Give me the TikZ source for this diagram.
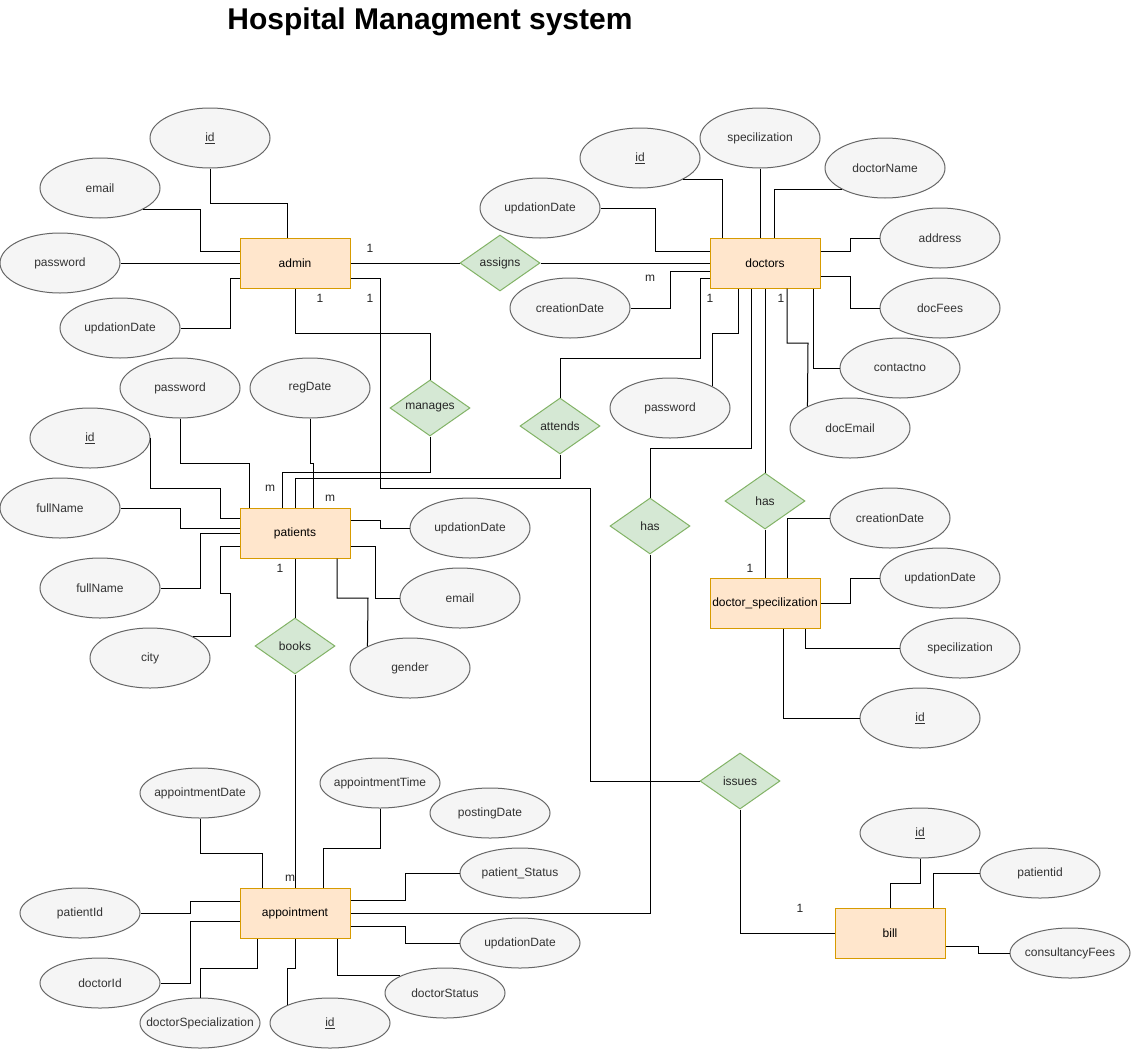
\documentclass[tikz,border=0pt]{standalone}
\usepackage{fontspec}
\setmainfont{Liberation Sans}
\usetikzlibrary{shapes.geometric}
\definecolor{entfill}{HTML}{FFE6CC}
\definecolor{entdraw}{HTML}{D79B00}
\definecolor{relfill}{HTML}{D5E8D4}
\definecolor{reldraw}{HTML}{82B366}
\definecolor{attfill}{HTML}{F5F5F5}
\definecolor{attdraw}{HTML}{666666}
\definecolor{atttext}{HTML}{333333}
\newcommand\erfont{\fontsize{12}{14}\selectfont}
\newcommand\zw[1]{\makebox[0pt][c]{#1}}
\begin{document}
\begin{tikzpicture}[x=1pt,y=-1pt,line width=1pt,
  ent/.style={draw=entdraw,fill=entfill,minimum width=110,minimum height=50,inner sep=0,font=\erfont,text=black},
  rel/.style={diamond,shape aspect=1.43,draw=reldraw,fill=relfill,minimum width=80,minimum height=56,inner sep=0,font=\erfont,text=black!85},
  attr/.style={ellipse,draw=attdraw,fill=attfill,minimum width=120,minimum height=60,inner sep=0,font=\erfont,text=atttext},
  attrs/.style={attr,minimum height=50},
  lbl/.style={font=\erfont,text=black!85,inner sep=0}]
\useasboundingbox[fill=white] (0,0) rectangle (1131,1049);

\node[font=\fontsize{30}{36}\selectfont\bfseries,anchor=base,inner sep=0] (title) at (430,30) {Hospital Managment system};

% entities
\node[ent] (admin) at (295,263) {admin};
\node[ent] (doctors) at (765,263) {doctors};
\node[ent] (patients) at (295,533) {patients};
\node[ent] (docspec) at (765,603) {doctor\_specilization};
\node[ent] (appt) at (295,913) {appointment};
\node[ent] (bill) at (890,933) {bill};

% relationships
\node[rel] (assigns) at (500,263) {assigns};
\node[rel] (manages) at (430,408) {manages};
\node[rel] (attends) at (560,426) {attends};
\node[rel] (hasL) at (650,526) {has};
\node[rel] (hasR) at (765,501) {has};
\node[rel] (books) at (295,646) {books};
\node[rel] (issues) at (740,781) {issues};

% admin attributes
\node[attr] (aId) at (210,138) {\zw{\underline{id}}};
\node[attr] (aEmail) at (100,188) {\zw{email}};
\node[attr] (aPass) at (60,263) {\zw{password}};
\node[attr] (aUpd) at (120,328) {\zw{updationDate}};

% doctors attributes
\node[attr] (dId) at (640,158) {\zw{\underline{id}}};
\node[attr] (dSpec) at (760,138) {\zw{specilization}};
\node[attr] (dName) at (885,168) {\zw{doctorName}};
\node[attr] (dUpd) at (540,208) {\zw{updationDate}};
\node[attr] (dCre) at (570,308) {\zw{creationDate}};
\node[attr] (dAddr) at (940,238) {\zw{address}};
\node[attr] (dFees) at (940,308) {\zw{docFees}};
\node[attr] (dContact) at (900,368) {\zw{contactno}};
\node[attr] (dEmail) at (850,428) {\zw{docEmail}};
\node[attr] (dPass) at (670,408) {\zw{password}};

% patients attributes
\node[attr] (pPass) at (180,388) {\zw{password}};
\node[attr] (pReg) at (310,388) {\zw{regDate}};
\node[attr] (pId) at (90,438) {\zw{\underline{id}}};
\node[attr] (pName1) at (60,508) {\zw{fullName}};
\node[attr] (pName2) at (100,588) {\zw{fullName}};
\node[attr] (pCity) at (150,658) {\zw{city}};
\node[attr] (pUpd) at (470,528) {\zw{updationDate}};
\node[attr] (pEmail) at (460,598) {\zw{email}};
\node[attr] (pGender) at (410,668) {\zw{gender}};

% doctor_specilization attributes
\node[attr] (sCre) at (890,518) {\zw{creationDate}};
\node[attr] (sUpd) at (940,578) {\zw{updationDate}};
\node[attr] (sSpec) at (960,648) {\zw{specilization}};
\node[attr] (sId) at (920,718) {\zw{\underline{id}}};

% appointment attributes
\node[attrs] (tDate) at (200,793) {\zw{appointmentDate}};
\node[attrs] (tTime) at (380,783) {\zw{appointmentTime}};
\node[attrs] (tPost) at (490,813) {\zw{postingDate}};
\node[attrs] (tPStat) at (520,873) {\zw{patient\_Status}};
\node[attrs] (tPid) at (80,913) {\zw{patientId}};
\node[attrs] (tDid) at (100,983) {\zw{doctorId}};
\node[attrs] (tDSpec) at (200,1023) {\zw{doctorSpecialization}};
\node[attrs] (tId) at (330,1023) {\zw{\underline{id}}};
\node[attrs] (tDStat) at (445,993) {\zw{doctorStatus}};
\node[attrs] (tUpd) at (520,943) {\zw{updationDate}};

% bill attributes
\node[attrs] (bId) at (920,833) {\zw{\underline{id}}};
\node[attrs] (bPid) at (1040,873) {\zw{patientid}};
\node[attrs] (bFees) at (1070,953) {\zw{consultancyFees}};

% cardinality labels
\node[lbl] (l1) at (370,248) {1};
\node[lbl] (l2) at (320,298) {1};
\node[lbl] (l3) at (370,298) {1};
\node[lbl] (l4) at (650,278) {m};
\node[lbl] (l5) at (710,298) {1};
\node[lbl] (l6) at (781,298) {1};
\node[lbl] (l7) at (270,488) {m};
\node[lbl] (l8) at (330,498) {m};
\node[lbl] (l9) at (280,568) {1};
\node[lbl] (l10) at (290,878) {m};
\node[lbl] (l11) at (750,568) {1};
\node[lbl] (l12) at (800,908) {1};

% ---- connectors ----
% admin
\draw (aId.south) |- (287,203) -- (287,203 |- admin.north);
\draw (aEmail.-26) -| (200,251) -- (200,251 -| admin.west);
\draw (aPass) -- (admin);
\draw (aUpd.east) -| (230,278) -- (230,278 -| admin.west);
\draw (admin) -- (assigns);
\draw (assigns) -- (doctors);
\draw (admin.south) |- (430,333) -- (manages.north);
\draw (admin.east |- 0,278) -| (380,488) -| (590,781) -- (issues.west);

% relationships to patients
\draw (manages.south) |- (282,472) -- (282,472 |- patients.north);
\draw (attends.north) |- (700,358) |- (doctors.west |- 0,278);
\draw (attends.south) |- (295,478) -- (patients.north);

% patients attributes
\draw (pReg.south) -- (310,463) -- (313,463) -- (313,463 |- patients.north);
\draw (pPass.south) |- (249,463) -- (249,463 |- patients.north);
\draw (pId.east) |- (220,488) |- (patients.west |- 0,518);
\draw (pName1.east) -| (180,528) -- (patients.west |- 0,528);
\draw (pName2.east) -| (200,533) -- (patients.west |- 0,533);
\draw (pCity.26) -| (230,593) -| (220,546) -- (patients.west |- 0,546);
\draw (patients.east |- 0,520) -| (380,528) -- (pUpd.west);
\draw (patients.east |- 0,546) -| (375,598) -- (pEmail.west);
\draw (patients.south -| 337,0) |- (368,598) -- (pGender.153);

% books
\draw (patients) -- (books);
\draw (books) -- (appt);

% doctors: has
\draw (doctors.south -| 751,0) |- (650,448) -- (hasL.north);
\draw (hasL.south) |- (appt.east);
\draw (doctors) -- (hasR);
\draw (hasR) -- (docspec);

% doctors attributes
\draw (dId.-26) -| (722,0 |- doctors.north);
\draw (dSpec.south) -- (doctors.north -| 760,0);
\draw (dName.206) -| (774,0 |- doctors.north);
\draw (dUpd.east) -| (655,251) -- (doctors.west |- 0,251);
\draw (dCre.east) -| (670,271) -- (doctors.west |- 0,271);
\draw (doctors.east |- 0,251) -| (850,238) -- (dAddr.west);
\draw (doctors.east |- 0,276) -| (850,308) -- (dFees.west);
\draw (doctors.south -| 813,0) |- (dContact.west);
\draw (doctors.south -| 787,0) |- (808,343) -- (dEmail.153);
\draw (dPass.27) |- (738,333) -- (doctors.south -| 738,0);

% doctor_specilization attributes
\draw (sCre.west) -| (787,0 |- docspec.north);
\draw (docspec.east) -| (850,578) -- (sUpd.west);
\draw (docspec.south -| 805,0) |- (sSpec.west);
\draw (docspec.south -| 783,0) |- (sId.west);

% appointment attributes
\draw (tDate.south) |- (262,853) -- (262,0 |- appt.north);
\draw (tTime.south) |- (323,848) -- (323,0 |- appt.north);
\draw (appt.east |- 0,900) -| (405,873) -- (tPStat.west);
\draw (tPid.east) -| (190,901) -- (appt.west |- 0,901);
\draw (tDid.east) -| (190,921) -- (appt.west |- 0,921);
\draw (tDSpec.north) |- (257,968) -- (257,0 |- appt.south);
\draw (tId.157) |- (295,968) -- (appt.south);
\draw (appt.south -| 337,0) |- (tDStat.159);
\draw (appt.east |- 0,926) -| (405,943) -- (tUpd.west);

% bill
\draw (bId.south) |- (890,883) -- (bill.north);
\draw (bPid.west) -| (933,0 |- bill.north);
\draw (bill.east |- 0,946) -| (978,953) -- (bFees.west);
\draw (issues.south) |- (bill.west);
\end{tikzpicture}
\end{document}
